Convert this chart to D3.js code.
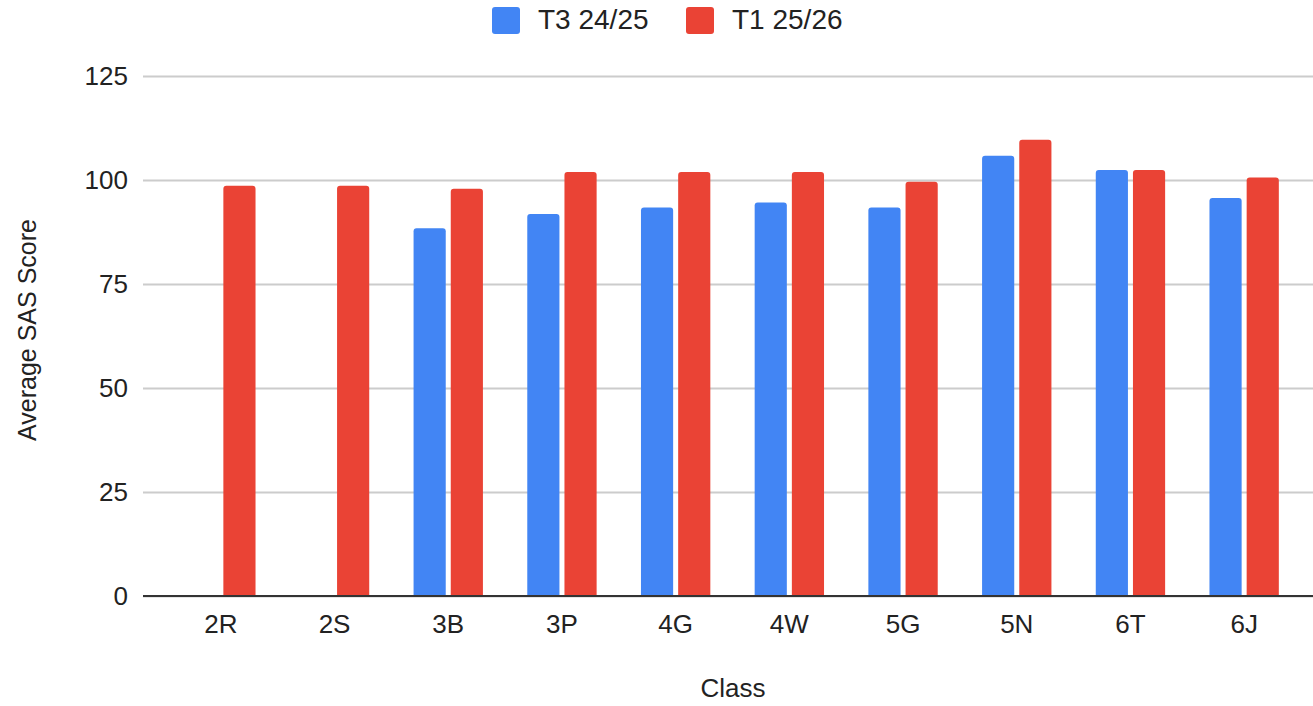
<!DOCTYPE html>
<html>
<head>
<meta charset="utf-8">
<script src="https://cdn.jsdelivr.net/npm/d3@7"></script>
<style>
  html, body { margin: 0; padding: 0; background: #fff; }
  svg { display: block; font-family: Arial, "Liberation Sans", sans-serif; }
</style>
</head>
<body>
<div id="chart"></div>
<script>
// data
const classes = ["2R", "2S", "3B", "3P", "4G", "4W", "5G", "5N", "6T", "6J"];
const seriesNames = ["T3 24/25", "T1 25/26"];
const t3Values = [null, null, 88.4, 91.8, 93.4, 94.6, 93.4, 105.8, 102.4, 95.7];
const t1Values = [98.6, 98.6, 97.9, 101.9, 101.9, 101.9, 99.6, 109.7, 102.4, 100.6];
const yTicks = [0, 25, 50, 75, 100, 125];
const colors = ["#4285f4", "#ea4335"];

const width = 1313, height = 706;
const plotTop = 76, plotBottom = 596;
const gridLeft = 143, gridRight = 1313;

const svg = d3.select("#chart").append("svg")
  .attr("width", width)
  .attr("height", height);

// scales
const x = d3.scaleBand()
  .domain(classes)
  .range([164, 1301])
  .paddingInner(0.39)
  .paddingOuter(0.195);

const x1 = d3.scaleBand()
  .domain(seriesNames)
  .range([0, x.bandwidth()])
  .paddingInner(0.135);

const y = d3.scaleLinear()
  .domain([0, 125])
  .range([plotBottom, plotTop]);

// gridlines + y labels
const yAxis = d3.axisLeft(y)
  .tickValues(yTicks)
  .tickSize(-(gridRight - gridLeft))
  .tickPadding(15);

const yg = svg.append("g")
  .attr("transform", `translate(${gridLeft},0)`)
  .call(yAxis);
yg.select(".domain").remove();
yg.selectAll(".tick line")
  .attr("stroke", "#cccccc")
  .attr("stroke-width", 2);
yg.selectAll(".tick text")
  .attr("font-size", 26)
  .attr("fill", "#222")
  .attr("font-family", "Arial, 'Liberation Sans', sans-serif");

// bars with rounded tops
const rows = classes.map((c, i) => ({ cls: c, vals: [t3Values[i], t1Values[i]] }));

function topRounded(x0, y0, w, h, r) {
  r = Math.min(r, h, w / 2);
  return `M${x0},${y0 + h}V${y0 + r}Q${x0},${y0} ${x0 + r},${y0}` +
    `H${x0 + w - r}Q${x0 + w},${y0} ${x0 + w},${y0 + r}V${y0 + h}Z`;
}

const groups = svg.append("g").selectAll("g")
  .data(rows)
  .join("g")
  .attr("transform", d => `translate(${x(d.cls)},0)`);

groups.selectAll("path")
  .data(d => d.vals.map((v, j) => ({ v, s: seriesNames[j], j })).filter(d => d.v != null))
  .join("path")
  .attr("fill", d => colors[d.j])
  .attr("d", d => topRounded(x1(d.s), y(d.v), x1.bandwidth(), y(0) - y(d.v), 3));

// baseline
svg.append("line")
  .attr("x1", gridLeft).attr("x2", gridRight)
  .attr("y1", y(0)).attr("y2", y(0))
  .attr("stroke", "#333")
  .attr("stroke-width", 2);

// x labels
const xAxis = d3.axisBottom(x).tickSize(0).tickPadding(0);
const xg = svg.append("g")
  .attr("transform", `translate(0,${y(0)})`)
  .call(xAxis);
xg.select(".domain").remove();
xg.selectAll(".tick text")
  .attr("dy", null)
  .attr("y", 37)
  .attr("font-size", 26)
  .attr("fill", "#222")
  .attr("font-family", "Arial, 'Liberation Sans', sans-serif");

// axis titles
svg.append("text")
  .attr("x", 733)
  .attr("y", 697)
  .attr("text-anchor", "middle")
  .attr("font-size", 26)
  .attr("fill", "#222")
  .text("Class");

svg.append("text")
  .attr("transform", `translate(36,330) rotate(-90)`)
  .attr("text-anchor", "middle")
  .attr("font-size", 25)
  .attr("fill", "#222")
  .text("Average SAS Score");

// legend
const legendItems = [
  { label: seriesNames[0], color: colors[0], x: 492 },
  { label: seriesNames[1], color: colors[1], x: 686 }
];
const lg = svg.append("g").selectAll("g")
  .data(legendItems)
  .join("g")
  .attr("transform", d => `translate(${d.x},7)`);
lg.append("rect")
  .attr("width", 28).attr("height", 27)
  .attr("rx", 3)
  .attr("fill", d => d.color);
lg.append("text")
  .attr("x", 46)
  .attr("y", 22)
  .attr("font-size", 28)
  .attr("fill", "#222")
  .text(d => d.label);
</script>
</body>
</html>
